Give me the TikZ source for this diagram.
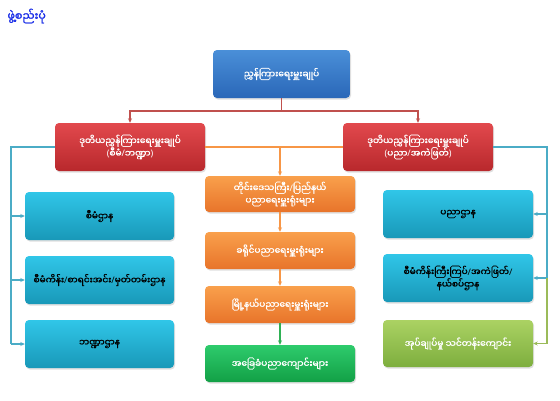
\documentclass[tikz,border=0pt]{standalone}
\usepackage{fontspec}
\newfontfamily\mya[Script=Myanmar,AutoFakeBold=1.6]{Noto Sans Myanmar UI}
\newfontfamily\latn{Noto Sans}
\newcommand\mylp{{\latn\bfseries(}}
\newcommand\myrp{{\latn\bfseries)}}
\newcommand\mysl{{\latn\bfseries/}}
\usetikzlibrary{arrows.meta,shadows}
\definecolor{bxblueT}{HTML}{4A8FD8}\definecolor{bxblueB}{HTML}{2A67B8}
\definecolor{bxredT}{HTML}{E2494D}\definecolor{bxredB}{HTML}{B8282C}
\definecolor{bxorT}{HTML}{F9A04C}\definecolor{bxorB}{HTML}{E8742A}
\definecolor{bxgrT}{HTML}{2ECB6C}\definecolor{bxgrB}{HTML}{12A046}
\definecolor{bxtlT}{HTML}{30C6E8}\definecolor{bxtlB}{HTML}{1898B8}
\definecolor{bxolT}{HTML}{ABD263}\definecolor{bxolB}{HTML}{7DAE3E}
\definecolor{lnred}{HTML}{C0504D}\definecolor{lnor}{HTML}{F79646}
\definecolor{lntl}{HTML}{4BACC6}\definecolor{lngr}{HTML}{9BBB59}
\definecolor{lngreen}{HTML}{2FB155}
\definecolor{ttl}{HTML}{1A2EE8}
\begin{document}
\begin{tikzpicture}[x=1pt,y=-1pt,
  bx/.style={rounded corners=4pt,draw=none,align=center,inner sep=0pt,
    font=\mya\bfseries\fontsize{9}{12.5}\selectfont,
    drop shadow={opacity=0.25,shadow xshift=1pt,shadow yshift=-1.5pt}},
  bluebx/.style={bx,top color=bxblueT,bottom color=bxblueB,text=white},
  redbx/.style={bx,top color=bxredT,bottom color=bxredB,text=white},
  orbx/.style={bx,top color=bxorT,bottom color=bxorB,text=white},
  grbx/.style={bx,top color=bxgrT,bottom color=bxgrB,text=white},
  tlbx/.style={bx,top color=bxtlT,bottom color=bxtlB,text=black},
  olbx/.style={bx,top color=bxolT,bottom color=bxolB,text=white},
  ln/.style={line width=1.4pt},
  tip/.style={-{Stealth[length=4.5pt,width=4pt]}}
]
\useasboundingbox (0,0) rectangle (560,400);
\fill[white] (0,0) rectangle (560,400);
\node[font=\mya\bfseries\fontsize{11}{12}\selectfont,text=ttl,anchor=west] (title) at (4,16) {ဖွဲ့စည်းပုံ};

\node[bluebx,minimum width=137pt,minimum height=48pt] (top) at (281.5,74) {ညွှန်ကြားရေးမှူးချုပ်};
\node[redbx,minimum width=150pt,minimum height=48pt] (l2) at (130,147) {ဒုတိယညွှန်ကြားရေးမှူးချုပ်\\\mylp စီမံ\mysl ဘဏ္ဍာ\myrp};
\node[redbx,minimum width=150pt,minimum height=48pt] (r2) at (418,147) {ဒုတိယညွှန်ကြားရေးမှူးချုပ်\\\mylp ပညာ\mysl အကဲဖြတ်\myrp};

\node[orbx,minimum width=150pt,minimum height=36pt] (o1) at (280,194) {တိုင်းဒေသကြီး\mysl ပြည်နယ်\\ပညာရေးမှူးရုံးများ};
\node[orbx,minimum width=150pt,minimum height=37pt] (o2) at (280,250.5) {ခရိုင်ပညာရေးမှူးရုံးများ};
\node[orbx,minimum width=150pt,minimum height=37pt] (o3) at (280,304.5) {မြို့နယ်ပညာရေးမှူးရုံးများ};
\node[grbx,minimum width=150pt,minimum height=37pt] (g1) at (280,363.5) {အခြေခံပညာကျောင်းများ};

\node[tlbx,minimum width=149pt,minimum height=48pt] (lb1) at (99.5,216) {စီမံဌာန};
\node[tlbx,minimum width=149pt,minimum height=48pt] (lb2) at (99.5,280) {စီမံကိန်း\mysl စာရင်းအင်း\mysl မှတ်တမ်းဌာန};
\node[tlbx,minimum width=149pt,minimum height=48pt] (lb3) at (99.5,344) {ဘဏ္ဍာဌာန};

\node[tlbx,minimum width=150pt,minimum height=48pt] (rb1) at (458,214) {ပညာဌာန};
\node[tlbx,minimum width=150pt,minimum height=48pt] (rb2) at (458,278) {စီမံကိန်းကြီးကြပ်\mysl အကဲဖြတ်\mysl\\နယ်စပ်ဌာန};
\node[olbx,minimum width=150pt,minimum height=47pt] (rb3) at (458,343.5) {အုပ်ချုပ်မှု သင်တန်းကျောင်း};

% red connectors
\coordinate (rj) at (281.5,111);
\draw[ln,lnred] (top.south) -- (rj);
\draw[ln,lnred,tip] (rj) -| (l2.north);
\draw[ln,lnred,tip] (rj) -| (r2.north);

% orange connectors
\coordinate (oj) at (280,147);
\draw[ln,lnor] (l2.east) -- (r2.west);
\draw[ln,lnor,tip] (oj) -- (o1.north);
\draw[ln,lnor,tip] (o1.south) -- (o2.north);
\draw[ln,lnor,tip] (o2.south) -- (o3.north);
\draw[ln,lngreen,tip] (o3.south) -- (g1.north);

% left teal
\coordinate (lv) at (11,147);
\coordinate (lvend) at (11,344);
\draw[ln,lntl] (l2.west) -- (lv) -- (lvend);
\draw[ln,lntl,tip] (lb1.west -| lv) -- (lb1.west);
\draw[ln,lntl,tip] (lb2.west -| lv) -- (lb2.west);
\draw[ln,lntl,tip] (lvend) -- (lb3.west);

% right teal / green
\coordinate (rv) at (547,147);
\coordinate (rvmid) at (547,278);
\coordinate (rvend) at (547,343.5);
\draw[ln,lntl] (r2.east) -- (rv) -- (rvmid);
\draw[ln,lntl,tip] (rb1.east -| rv) -- (rb1.east);
\draw[ln,lntl,tip] (rvmid) -- (rb2.east);
\draw[ln,lngr] (rvmid) -- (rvend);
\draw[ln,lngr,tip] (rvend) -- (rb3.east);
\end{tikzpicture}
\end{document}
